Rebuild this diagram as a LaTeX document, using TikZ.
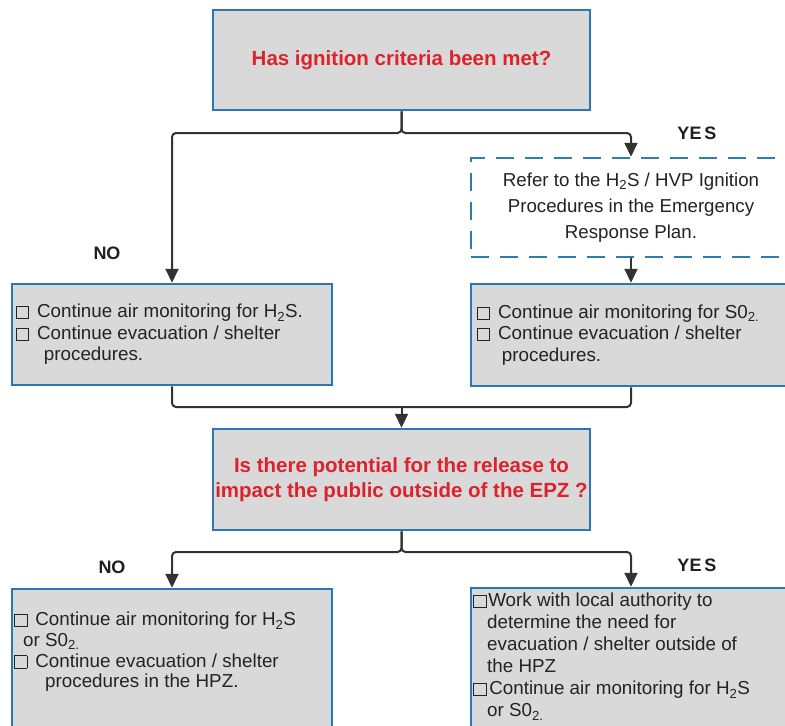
\documentclass[tikz,border=0pt]{standalone}
\usepackage{fontspec}
\setmainfont{Liberation Sans}
\usetikzlibrary{arrows.meta}
\definecolor{boxfill}{RGB}{217,217,217}
\definecolor{boxblue}{RGB}{46,117,182}
\definecolor{dashblue}{RGB}{45,125,175}
\definecolor{headred}{RGB}{220,35,45}
\definecolor{txtcol}{RGB}{35,35,35}
\definecolor{conncol}{RGB}{50,50,50}
\newcommand\cbx[1][8pt]{\raisebox{-0.5pt}{\setlength\fboxsep{0pt}\setlength\fboxrule{0.8pt}\fbox{\rule{0pt}{11.5pt}\hspace{11.5pt}}}\hspace{#1}}
\begin{document}
\begin{tikzpicture}[x=1pt,y=-1pt,
  qbox/.style={draw=boxblue,line width=2.5pt,fill=boxfill,minimum width=377pt,minimum height=100pt,text=headred,font=\fontsize{20.5}{25}\selectfont\bfseries,align=center,inner sep=0pt},
  lbox/.style={draw=boxblue,line width=2.5pt,fill=boxfill,minimum width=320pt,inner sep=0pt},
  ltext/.style={text=txtcol,font=\fontsize{18.8}{21.5}\selectfont,align=left,inner sep=0pt},
  dbox/.style={draw=dashblue,line width=2.5pt,dash pattern=on 18pt off 11pt,minimum width=320pt,minimum height=99pt,align=center,text=txtcol,font=\fontsize{18.7}{26}\selectfont,inner sep=0pt},
  lbl/.style={text=black!88,font=\fontsize{18}{20}\selectfont\bfseries},
  conn/.style={draw=conncol,line width=2pt,rounded corners=4pt},
  arr/.style={conn,-{Triangle[length=14pt,width=13pt]}}
]
\useasboundingbox (0,0) rectangle (785,726);
\fill[white] (0,0) rectangle (785,726);
\begin{scope}
\clip (0,0) rectangle (785,726);
\node[qbox] (q1) at (401.5,60) {Has ignition criteria been met?};
\node[dbox] (d1) at (631,207.5) {Refer to the H\textsubscript{2}S / HVP Ignition\\Procedures in the Emergency\\Response Plan.};
\node[lbox,minimum height=101pt] (a1) at (172,334.5) {};
\node[lbox,minimum height=102pt] (b1) at (631,335) {};
\node[qbox,minimum height=101pt] (q2) at (401.5,479.5) {Is there potential for the release to\\impact the public outside of the EPZ ?};
\node[lbox,minimum height=160pt] (a2) at (172,669) {};
\node[lbox,minimum height=160pt] (b2) at (631,668) {};

\node[ltext,anchor=west] (ta1) at ([xshift=5pt]a1.west) {\cbx Continue air monitoring for H\textsubscript{2}S.\\
\cbx Continue evacuation / shelter\\
\hspace*{28pt}procedures.};
\node[ltext,anchor=west] (tb1) at ([xshift=7pt]b1.west) {\cbx Continue air monitoring for S0\textsubscript{2.}\\
\cbx Continue evacuation / shelter\\
\hspace*{25pt}procedures.};
\node[ltext,anchor=north west,font=\fontsize{18.8}{20.7}\selectfont] (ta2) at (14,612) {\cbx Continue air monitoring for H\textsubscript{2}S\\
\hspace*{9pt}or S0\textsubscript{2.}\\
\cbx Continue evacuation / shelter\\
\hspace*{31pt}procedures in the HPZ.};
\node[ltext,anchor=north west,font=\fontsize{18.8}{22}\selectfont] (tb2) at (473,593) {\cbx[2pt]Work with local authority to\\
\hspace*{14pt}determine the need for\\
\hspace*{14pt}evacuation / shelter outside of\\
\hspace*{14pt}the HPZ\\
\cbx[3pt]Continue air monitoring for H\textsubscript{2}S\\
\hspace*{14pt}or S0\textsubscript{2.}};

\coordinate (j1) at (401.5,133);
\coordinate (m1) at (401.5,407);
\coordinate (j2) at (401.5,552);
\draw[arr] (q1.south) |- (a1.north |- j1) -- (a1.north);
\draw[arr] (q1.south) |- (d1.north |- j1) -- (d1.north);
\draw[arr] (d1.south) -- (b1.north);
\draw[conn] (a1.south) |- (b1.south |- m1) -- (b1.south);
\draw[arr] (m1) -- (q2.north);
\draw[arr] (q2.south) |- (a2.north |- j2) -- (a2.north);
\draw[arr] (q2.south) |- (b2.north |- j2) -- (b2.north);

\node[lbl] (yes1) at (697,133) {YE\,S};
\node[lbl] (no1) at (107,253) {NO};
\node[lbl] (no2) at (112,567) {NO};
\node[lbl] (yes2) at (697,565) {YE\,S};
\end{scope}
\end{tikzpicture}
\end{document}
